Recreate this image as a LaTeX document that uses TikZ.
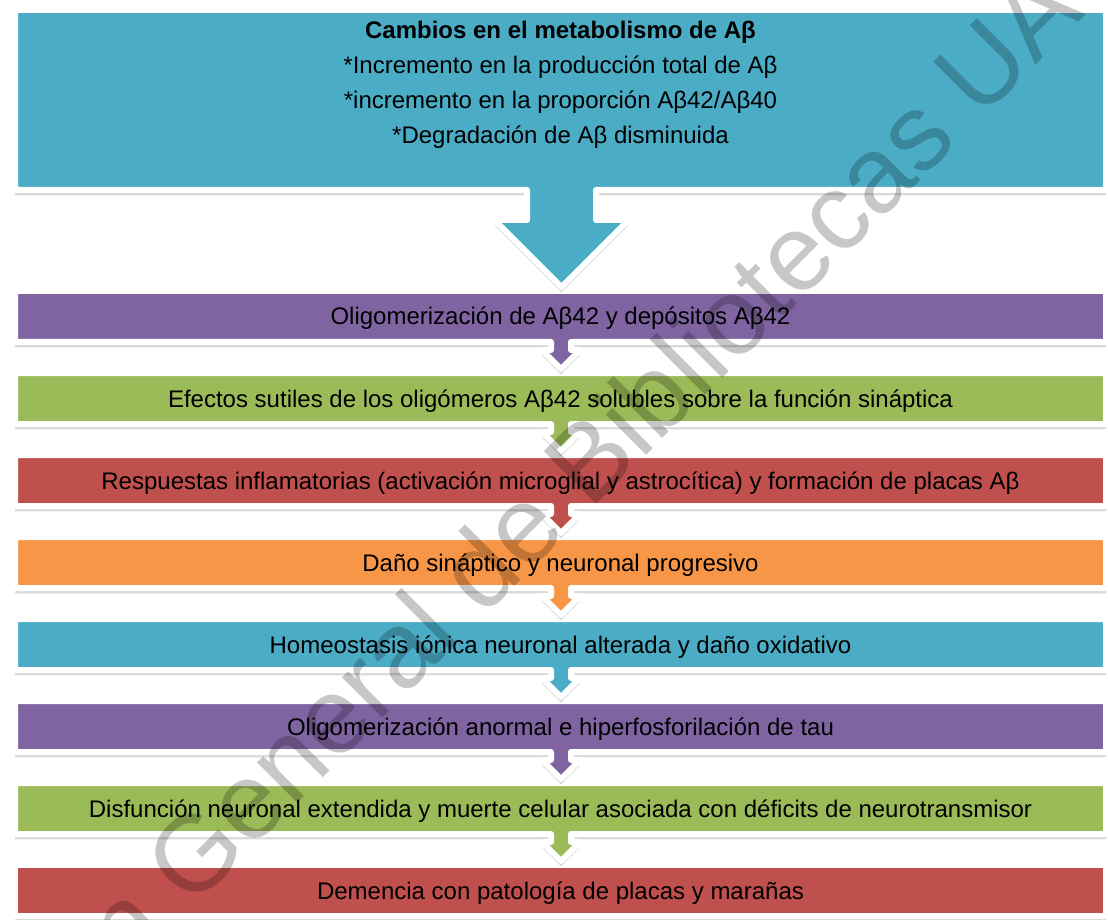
\documentclass[tikz,border=0pt]{standalone}
\usepackage{fontspec}
\setmainfont{Liberation Sans}
\usetikzlibrary{shadows}
\definecolor{boxcyan}{HTML}{4BACC6}
\definecolor{boxpurple}{HTML}{8064A2}
\definecolor{boxgreen}{HTML}{9BBB59}
\definecolor{boxred}{HTML}{C0504D}
\definecolor{boxorange}{HTML}{F79646}
\begin{document}
\begin{tikzpicture}[x=0.75pt, y=-0.75pt,
  stepshape/.style={draw=white, line width=4.5pt, line join=round,
    drop shadow={shadow xshift=0pt, shadow yshift=-4pt, opacity=0.3}},
  steptext/.style={anchor=base, inner sep=0pt, font=\fontsize{18}{26.25}\selectfont},
  stamp/.style={anchor=base west, inner sep=0pt, rotate=45, opacity=0.22,
    font=\fontsize{81}{85}\selectfont}]
\useasboundingbox (0,0) rectangle (1108,920);
% steps, lowest first so each arrow lies over the next box
\path[stepshape, fill=boxred] (15,865) -- (1106,865) -- (1106,916) -- (15,916) -- cycle;
\node[steptext] (step8) at (560.5,899) {Demencia con patología de placas y marañas};
\path[stepshape, fill=boxgreen] (15,783) -- (1106,783) -- (1106,834) -- (571,834) -- (571,842) -- (580,842) -- (561,861) -- (542,842) -- (551,842) -- (551,834) -- (15,834) -- cycle;
\node[steptext] (step7) at (560.5,817) {Disfunción neuronal extendida y muerte celular asociada con déficits de neurotransmisor};
\path[stepshape, fill=boxpurple] (15,701) -- (1106,701) -- (1106,752) -- (571,752) -- (571,760) -- (580,760) -- (561,779) -- (542,760) -- (551,760) -- (551,752) -- (15,752) -- cycle;
\node[steptext] (step6) at (560.5,735) {Oligomerización anormal e hiperfosforilación de tau};
\path[stepshape, fill=boxcyan] (15,619) -- (1106,619) -- (1106,670) -- (571,670) -- (571,678) -- (580,678) -- (561,697) -- (542,678) -- (551,678) -- (551,670) -- (15,670) -- cycle;
\node[steptext] (step5) at (560.5,653) {Homeostasis iónica neuronal alterada y daño oxidativo};
\path[stepshape, fill=boxorange] (15,537) -- (1106,537) -- (1106,588) -- (571,588) -- (571,596) -- (580,596) -- (561,615) -- (542,596) -- (551,596) -- (551,588) -- (15,588) -- cycle;
\node[steptext] (step4) at (560.5,571) {Daño sináptico y neuronal progresivo};
\path[stepshape, fill=boxred] (15,455) -- (1106,455) -- (1106,506) -- (571,506) -- (571,514) -- (580,514) -- (561,533) -- (542,514) -- (551,514) -- (551,506) -- (15,506) -- cycle;
\node[steptext] (step3) at (560.5,489) {Respuestas inflamatorias (activación microglial y astrocítica) y formación de placas Aβ};
\path[stepshape, fill=boxgreen] (15,373) -- (1106,373) -- (1106,424) -- (571,424) -- (571,432) -- (580,432) -- (561,451) -- (542,432) -- (551,432) -- (551,424) -- (15,424) -- cycle;
\node[steptext] (step2) at (560.5,407) {Efectos sutiles de los oligómeros Aβ42 solubles sobre la función sináptica};
\path[stepshape, fill=boxpurple] (15,291) -- (1106,291) -- (1106,342) -- (571,342) -- (571,350) -- (580,350) -- (561,369) -- (542,350) -- (551,350) -- (551,342) -- (15,342) -- cycle;
\node[steptext] (step1) at (560.5,325) {Oligomerización de Aβ42 y depósitos Aβ42};
% top box with the large arrow
\path[stepshape, fill=boxcyan] (15,10) -- (1106,10) -- (1106,190) -- (596,190) -- (596,220) -- (628.5,220) -- (561.5,287) -- (494.5,220) -- (527,220) -- (527,190) -- (15,190) -- cycle;
\node[steptext, anchor=center, align=center] (step0) at (560.5,85) {\textbf{Cambios en el metabolismo de Aβ}\\ {}*Incremento en la producción total de Aβ\\ {}*incremento en la proporción Aβ42/Aβ40\\ {}*Degradación de Aβ disminuida};
% watermark
\begin{scope}
\clip (0,0) rectangle (1108,920);
\node[stamp] (mark) at (191,910) {\llap{Dirección }General de Bibliotecas UAQ};
\end{scope}
\end{tikzpicture}
\end{document}
